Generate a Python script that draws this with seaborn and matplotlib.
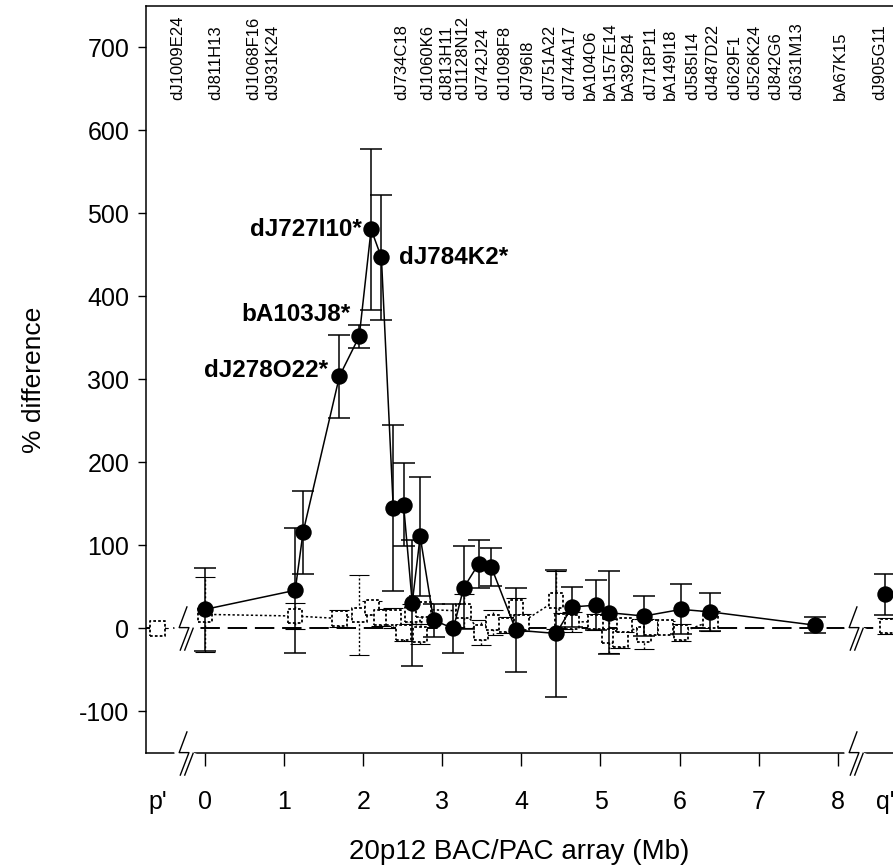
import numpy as np
import pandas as pd
import seaborn as sns
import matplotlib.pyplot as plt
from matplotlib.path import Path

# series 1: filled circles (solid line)
x1 = [0.00, 1.14, 1.24, 1.70, 1.95, 2.10, 2.23, 2.38, 2.51, 2.62, 2.72, 2.89, 3.14,
      3.27, 3.46, 3.62, 3.93, 4.44, 4.64, 4.94, 5.11, 5.55, 6.02, 6.39, 7.71, 8.60]
y1 = [23, 46, 116, 304, 352, 481, 447, 145, 149, 31, 111, 10, 0,
      49, 78, 74, -2, -6, 26, 28, 19, 15, 23, 20, 4, 41]
e1 = [50, 75, 50, 50, 14, 97, 75, 100, 50, 76, 72, 20, 30,
      50, 29, 23, 51, 76, 24, 30, 50, 24, 30, 23, 10, 25]
seg1 = ['a'] * 25 + ['q']

# series 2: open squares (dotted line)
x2 = [-0.60, 0.00, 1.14, 1.70, 1.95, 2.11, 2.23, 2.38, 2.51, 2.62, 2.72, 2.76, 3.27,
      3.49, 3.64, 3.81, 3.93, 4.00, 4.44, 4.52, 4.64, 4.94, 5.11, 5.25, 5.30, 5.55,
      5.64, 5.82, 6.02, 6.39, 8.62]
y2 = [0, 17, 15, 12, 16, 25, 13, 13, -5, 17, -7, 23, 21,
      -5, 7, 4, 25, 7, 34, 9, 8, 8, -9, -13, 4, -7,
      1, 1, -5, 9, 3]
e2 = [0, 45, 16, 10, 48, 8, 10, 12, 10, 12, 12, 8, 20,
      15, 15, 10, 12, 10, 35, 10, 12, 10, 21, 10, 8, 18,
      8, 8, 10, 12, 10]
seg2 = ['p'] + ['a'] * 29 + ['q']

# clone names along the top
clones = ['dJ1009E24', 'dJ811H13', 'dJ1068F16', 'dJ931K24', 'dJ734C18', 'dJ1060K6',
          'dJ813H11', 'dJ1128N12', 'dJ742J24', 'dJ1098F8', 'dJ796I8', 'dJ751A22',
          'dJ744A17', 'bA104O6', 'bA157E14', 'bA392B4', 'dJ718P11', 'bA149I18',
          'dJ585I14', 'dJ487D22', 'dJ629F1', 'dJ526K24', 'dJ842G6', 'dJ631M13',
          'bA67K15', 'dJ905G11']
clone_x = [-0.35, 0.13, 0.62, 0.86, 2.49, 2.81, 3.06, 3.26, 3.51, 3.79, 4.08, 4.36,
           4.61, 4.87, 5.12, 5.35, 5.63, 5.88, 6.16, 6.42, 6.70, 6.95, 7.21, 7.48,
           8.03, 8.53]

# highlighted clones: (name, index into series 1, offset, alignment)
highlights = [('dJ727I10*', 5, (-7, 0), 'right'),
              ('dJ784K2*', 6, (13, 0), 'left'),
              ('bA103J8*', 4, (-6, 16), 'right'),
              ('dJ278O22*', 3, (-8, 4), 'right')]

xticks = [-0.6, 0, 1, 2, 3, 4, 5, 6, 7, 8, 8.6]
xticklabels = ["p'", '0', '1', '2', '3', '4', '5', '6', '7', '8', "q'"]
break_x = [-0.27, 8.2]

sns.set_style('ticks')
plt.rcParams['font.family'] = ['Liberation Sans', 'DejaVu Sans']
plt.rcParams['axes.unicode_minus'] = False
for k in ['text.color', 'axes.labelcolor', 'xtick.color', 'ytick.color']:
    plt.rcParams[k] = 'black'

fig = plt.figure(figsize=(8.93, 8.66), dpi=100)
ax = fig.add_axes([0.1635, 0.1305, 0.8365, 0.8626])

df1 = pd.DataFrame({'x': x1, 'y': y1, 'seg': seg1})
df2 = pd.DataFrame({'x': x2, 'y': y2, 'seg': seg2})

ax.axhline(0, color='black', lw=1.4, ls=(0, (10, 4)), zorder=1)

# series 2
sns.lineplot(data=df2, x='x', y='y', units='seg', estimator=None, sort=False,
             color='black', lw=1.1, ls=(0, (1.5, 1.5)), ax=ax, zorder=2)
eb = ax.errorbar(x2, y2, yerr=e2, fmt='none', ecolor='black', elinewidth=1,
                 capsize=7, capthick=0.8, zorder=2)
eb[2][0].set_linestyle((0, (1.5, 1.5)))
sns.scatterplot(data=df2, x='x', y='y', marker='s', s=110, color='white',
                edgecolor='black', linewidth=1.3, linestyle=(0, (1.5, 1.2)),
                ax=ax, zorder=3)

# series 1
sns.lineplot(data=df1, x='x', y='y', units='seg', estimator=None, sort=False,
             color='black', lw=1.1, ax=ax, zorder=4)
ax.errorbar(x1, y1, yerr=e1, fmt='none', ecolor='black', elinewidth=1.1,
            capsize=8, capthick=1.1, zorder=4)
sns.scatterplot(data=df1, x='x', y='y', marker='o', s=140, color='black',
                edgecolor='black', linewidth=0, ax=ax, zorder=5)

# axis break symbols
zig = Path([(0.06, 0.5), (-0.12, 0.02), (0.1, 0.02), (-0.1, -0.5),
            (0.2, 0.02), (0.0, -0.5)],
           [Path.MOVETO, Path.LINETO, Path.LINETO, Path.LINETO,
            Path.MOVETO, Path.LINETO])
for yb in [0, -150]:
    ax.plot(break_x, [yb] * 2, ls='none', marker=zig, ms=32, mew=7, mec='white',
            mfc='none', clip_on=False, zorder=6)
    ax.plot(break_x, [yb] * 2, ls='none', marker=zig, ms=32, mew=1, mec='black',
            mfc='none', clip_on=False, zorder=7)

for name, cx in zip(clones, clone_x):
    ax.text(cx, 637, name, rotation=90, ha='center', va='bottom', fontsize=12)

for name, i, off, ha in highlights:
    ax.annotate(name, (x1[i], y1[i]), xytext=off, textcoords='offset points',
                ha=ha, va='center', fontsize=17.5, fontweight='bold')

ax.set_xlim(-0.746, 8.698)
ax.set_ylim(-150, 750)
ax.set_xticks(xticks)
ax.set_xticklabels(xticklabels)
ax.set_yticks(np.arange(-100, 701, 100))
ax.tick_params(axis='x', length=9, width=1, labelsize=18, pad=18)
ax.tick_params(axis='y', length=6, width=1, labelsize=18, pad=6)
for t in (ax.xaxis.get_major_ticks()[0], ax.xaxis.get_major_ticks()[-1]):
    t.tick1line.set_visible(False)

for s in ['left', 'bottom', 'top']:
    ax.spines[s].set_linewidth(1.1)
    ax.spines[s].set_color('black')
ax.spines['right'].set_visible(False)

ax.set_xlabel('20p12 BAC/PAC array (Mb)', fontsize=20, labelpad=18)
ax.set_ylabel('% difference', fontsize=19, labelpad=24)

fig.savefig('out.png', dpi=100)
